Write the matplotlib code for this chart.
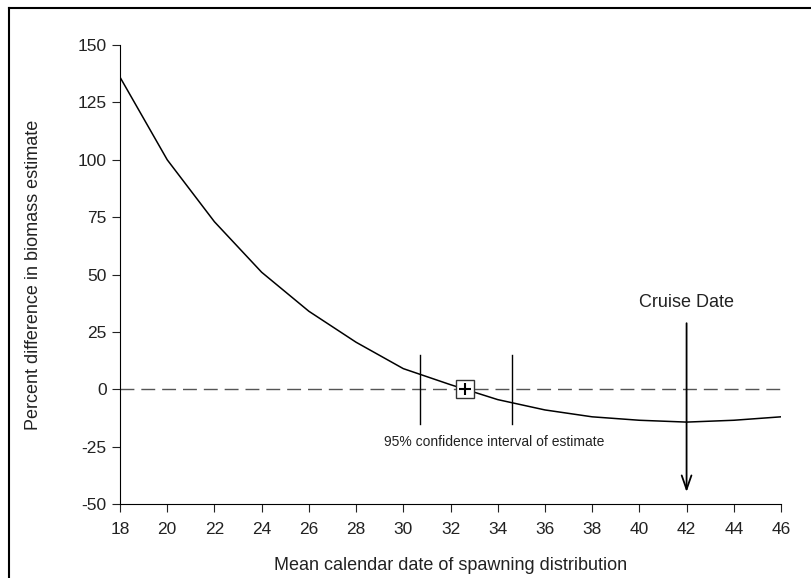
import numpy as np
import matplotlib.pyplot as plt
from matplotlib.lines import Line2D

plt.rcParams['font.family'] = ['Liberation Sans', 'DejaVu Sans']
plt.rcParams['axes.unicode_minus'] = False

dates = [18, 20, 22, 24, 26, 28, 30, 32, 34, 36, 38, 40, 42, 44, 46]
pct_diff = [136, 100, 73, 51, 34, 20.5, 9, 2, -4.5, -9, -12, -13.5, -14.3, -13.5, -12]
estimate = 32.6
ci_low, ci_high = 30.7, 34.6
cruise_date = 42

fig = plt.figure(figsize=(8.11, 5.78), dpi=100)
ax = fig.add_axes([0.148, 0.128, 0.815, 0.794])

ax.axhline(0, color='#555555', lw=1, ls=(0, (10, 5)), zorder=1)
ax.plot(dates, pct_diff, color='black', lw=1.1, zorder=2)

for xv in (ci_low, ci_high):
    ax.plot([xv, xv], [15, -15], color='black', lw=1, zorder=2)
ax.text(29.2, -23, '95% confidence interval of estimate', fontsize=10,
        va='center', ha='left', color='#222222')

ax.plot(estimate, 0, marker='s', ms=13, mfc='white', mec='#333333', mew=1, zorder=3)
ax.plot(estimate, 0, marker='+', ms=8, color='black', mew=1.5, zorder=4)

ax.annotate('', xy=(cruise_date, -46), xytext=(cruise_date, 30),
            arrowprops=dict(arrowstyle='->,head_length=1.0,head_width=0.35',
                            color='black', lw=1.3))
ax.text(cruise_date, 38, 'Cruise Date', fontsize=13, ha='center', va='center',
        color='#222222')

ax.set_xlim(18, 46)
ax.set_ylim(-50, 150)
ax.set_xticks(np.arange(18, 47, 2))
ax.set_yticks(np.arange(-50, 151, 25))
ax.spines['top'].set_visible(False)
ax.spines['right'].set_visible(False)
ax.tick_params(labelsize=12.5, direction='out', length=6, color='#222222',
               labelcolor='#222222')
ax.tick_params(axis='x', pad=7)
ax.set_xlabel('Mean calendar date of spawning distribution', fontsize=13,
              labelpad=14, color='#222222')
ax.set_ylabel('Percent difference in biomass estimate', fontsize=13,
              labelpad=26, color='#222222')

fig.add_artist(Line2D([0.011, 0.011], [0, 0.986], color='black', lw=1.5))
fig.add_artist(Line2D([0.011, 1.0], [0.986, 0.986], color='black', lw=1.5))

fig.savefig('out.png', dpi=100)
